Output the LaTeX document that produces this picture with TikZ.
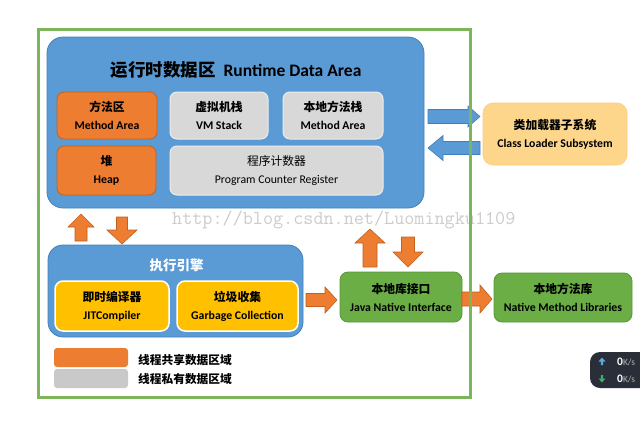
\documentclass[tikz,border=0pt]{standalone}
\usepackage{fontspec}
\setmainfont{Carlito}
\newfontfamily\cjk{Noto Sans CJK SC}
\definecolor{jblue}{HTML}{5B9BD5}
\definecolor{jblueD}{HTML}{3F7FBF}
\definecolor{jorange}{HTML}{ED7D31}
\definecolor{jorangeD}{HTML}{C2601E}
\definecolor{jgray}{HTML}{D8D8D8}
\definecolor{jgrayL}{HTML}{ECECEC}
\definecolor{jgold}{HTML}{FFC000}
\definecolor{jgreen}{HTML}{6BAE46}
\definecolor{jgreenD}{HTML}{5A9638}
\definecolor{jframe}{HTML}{7DB55A}
\definecolor{jpeach}{HTML}{FDD68C}
\definecolor{jlegray}{HTML}{C9C9C9}
\definecolor{jwidget}{HTML}{2A2E38}
\definecolor{wup}{HTML}{5BA7E0}
\definecolor{wdown}{HTML}{3DAF6A}
\newcommand\two[2]{{\cjk\bfseries #1}\\[1pt]{\bfseries #2}}
\newcommand\barrow[7]{%
  \path[#1,shift={#2},rotate=#3] (0,{-(#5)/2}) -- ({#4-#7},{-(#5)/2}) -- ({#4-#7},{-(#6)/2}) -- (#4,0)
    -- ({#4-#7},{(#6)/2}) -- ({#4-#7},{(#5)/2}) -- (0,{(#5)/2}) -- cycle;}
\tikzset{
  lbl/.style={align=center, font=\fontsize{11.8}{17}\selectfont, text=black, inner sep=0pt},
  bigblue/.style={fill=jblue, draw=jblueD, line width=0.8pt, rounded corners=16pt},
  orbox/.style={lbl, fill=jorange, draw=jorangeD, line width=0.8pt, rounded corners=7pt},
  grbox/.style={lbl, fill=jgray, draw=jgrayL, line width=1pt, rounded corners=7pt},
  goldbox/.style={lbl, fill=jgold, draw=white, line width=1.5pt, rounded corners=8pt},
  greenbox/.style={lbl, fill=jgreen, draw=jgreenD, line width=0.8pt, rounded corners=8pt},
  peachbox/.style={lbl, fill=jpeach, draw=jpeach!90!orange, line width=0.6pt, rounded corners=10pt},
  oarrow/.style={fill=jorange, draw=jorangeD, line width=0.6pt},
  barr/.style={fill=jblue, draw=jblueD, line width=0.6pt}
}
\begin{document}
\begin{tikzpicture}[x=1pt,y=-1pt]
\useasboundingbox[fill=white] (0,0) rectangle (640,424);
% runtime data area
\node[bigblue, minimum width=377pt, minimum height=171pt] (rda) at (235.5,122.5) {};
\node[inner sep=0pt, text=black] (rdat) at (236,70) {{\cjk\bfseries\fontsize{17.5}{20}\selectfont 运行时数据区}\hspace{8pt}{\bfseries\fontsize{17.5}{20}\selectfont Runtime Data Area}};
\node[orbox, minimum width=100pt, minimum height=47pt] (ma) at (107,115.5) {\two{方法区}{Method Area}};
\node[grbox, minimum width=98pt, minimum height=47pt] (vms) at (219,115.5) {\two{虚拟机栈}{VM Stack}};
\node[grbox, minimum width=100pt, minimum height=47pt] (nms) at (333,115.5) {\two{本地方法栈}{Method Area}};
\node[orbox, minimum width=99pt, minimum height=49pt] (heap) at (106.5,170.5) {\two{堆}{Heap}};
\node[grbox, minimum width=213pt, minimum height=49pt] (pcr) at (276.5,170.5) {{\cjk 程序计数器}\\[1pt]Program Counter Register};
% class loader
\node[peachbox, minimum width=144pt, minimum height=62pt] (cls) at (555,134) {\two{类加载器子系统}{Class Loader Subsystem}};
% execution engine
\node[bigblue, rounded corners=15pt, minimum width=255pt, minimum height=92pt] (ee) at (175.5,291) {};
\node[inner sep=0pt, text=white, font=\fontsize{13.5}{15}\selectfont] (eet) at (176.5,265) {{\cjk\bfseries 执行引擎}};
\node[goldbox, minimum width=114pt, minimum height=50pt] (jit) at (112,306) {\two{即时编译器}{JITCompiler}};
\node[goldbox, minimum width=121pt, minimum height=50pt] (gc) at (237.5,306) {\two{垃圾收集}{Garbage Collection}};
% native
\node[greenbox, minimum width=122pt, minimum height=50pt] (jni) at (401,297) {\two{本地库接口}{Java Native Interface}};
\node[greenbox, minimum width=138pt, minimum height=49pt] (nml) at (563,297.5) {\two{本地方法库}{Native Method Libraries}};
% legend
\node[fill=jorange, rounded corners=3pt, minimum width=74pt, minimum height=19pt, inner sep=0pt] (lego) at (91,357.5) {};
\node[fill=jlegray, rounded corners=3pt, minimum width=74pt, minimum height=19pt, inner sep=0pt] (legg) at (91,378.5) {};
\node[anchor=west, inner sep=0pt, font=\fontsize{11.7}{14}\selectfont] (legot) at (138,360) {{\cjk\bfseries 线程共享数据区域}};
\node[anchor=west, inner sep=0pt, font=\fontsize{11.7}{14}\selectfont] (leggt) at (138,379) {{\cjk\bfseries 线程私有数据区域}};
% block arrows
\barrow{barr}{(428,116.5)}{0}{52}{14}{21}{12}
\barrow{barr}{(480,148)}{180}{52}{13}{25}{15}
\barrow{oarrow}{(81,241)}{90}{27}{12}{26}{13}
\barrow{oarrow}{(122,217)}{-90}{27}{11}{30}{14}
\barrow{oarrow}{(370,267)}{90}{38}{14}{30}{14}
\barrow{oarrow}{(408,237)}{-90}{30}{13}{30}{15}
\barrow{oarrow}{(306,300)}{0}{31}{13}{26}{12}
\barrow{oarrow}{(462,299)}{0}{30}{14}{28}{12}
% watermark
\node[anchor=west, inner sep=0pt, text=black!22, opacity=0.9, font=\ttfamily\fontsize{19.6}{20}\selectfont] (wm) at (172,220) {http://blog.csdn.net/Luomingku1109};
% frame
\draw[jframe, line width=3pt] (38,29) rectangle (470,397);
% widget
\node[fill=jwidget, rounded corners=10pt, minimum width=70pt, minimum height=36pt, inner sep=0pt] (wid) at (625,370) {};
\fill[wup] (602,357.5) -- (605.5,361.5) -- (603.2,361.5) -- (603.2,365) -- (600.8,365) -- (600.8,361.5) -- (598.5,361.5) -- cycle;
\fill[wdown] (602,382.5) -- (605.5,378.5) -- (603.2,378.5) -- (603.2,375) -- (600.8,375) -- (600.8,378.5) -- (598.5,378.5) -- cycle;
\node[anchor=west, inner sep=0pt, text=white, font=\bfseries\fontsize{11.5}{12}\selectfont] (w1) at (617,362) {0{\color{gray!60}\mdseries\fontsize{9.5}{10}\selectfont K/s}};
\node[anchor=west, inner sep=0pt, text=white, font=\bfseries\fontsize{11.5}{12}\selectfont] (w2) at (617,379) {0{\color{gray!60}\mdseries\fontsize{9.5}{10}\selectfont K/s}};
\end{tikzpicture}
\end{document}
